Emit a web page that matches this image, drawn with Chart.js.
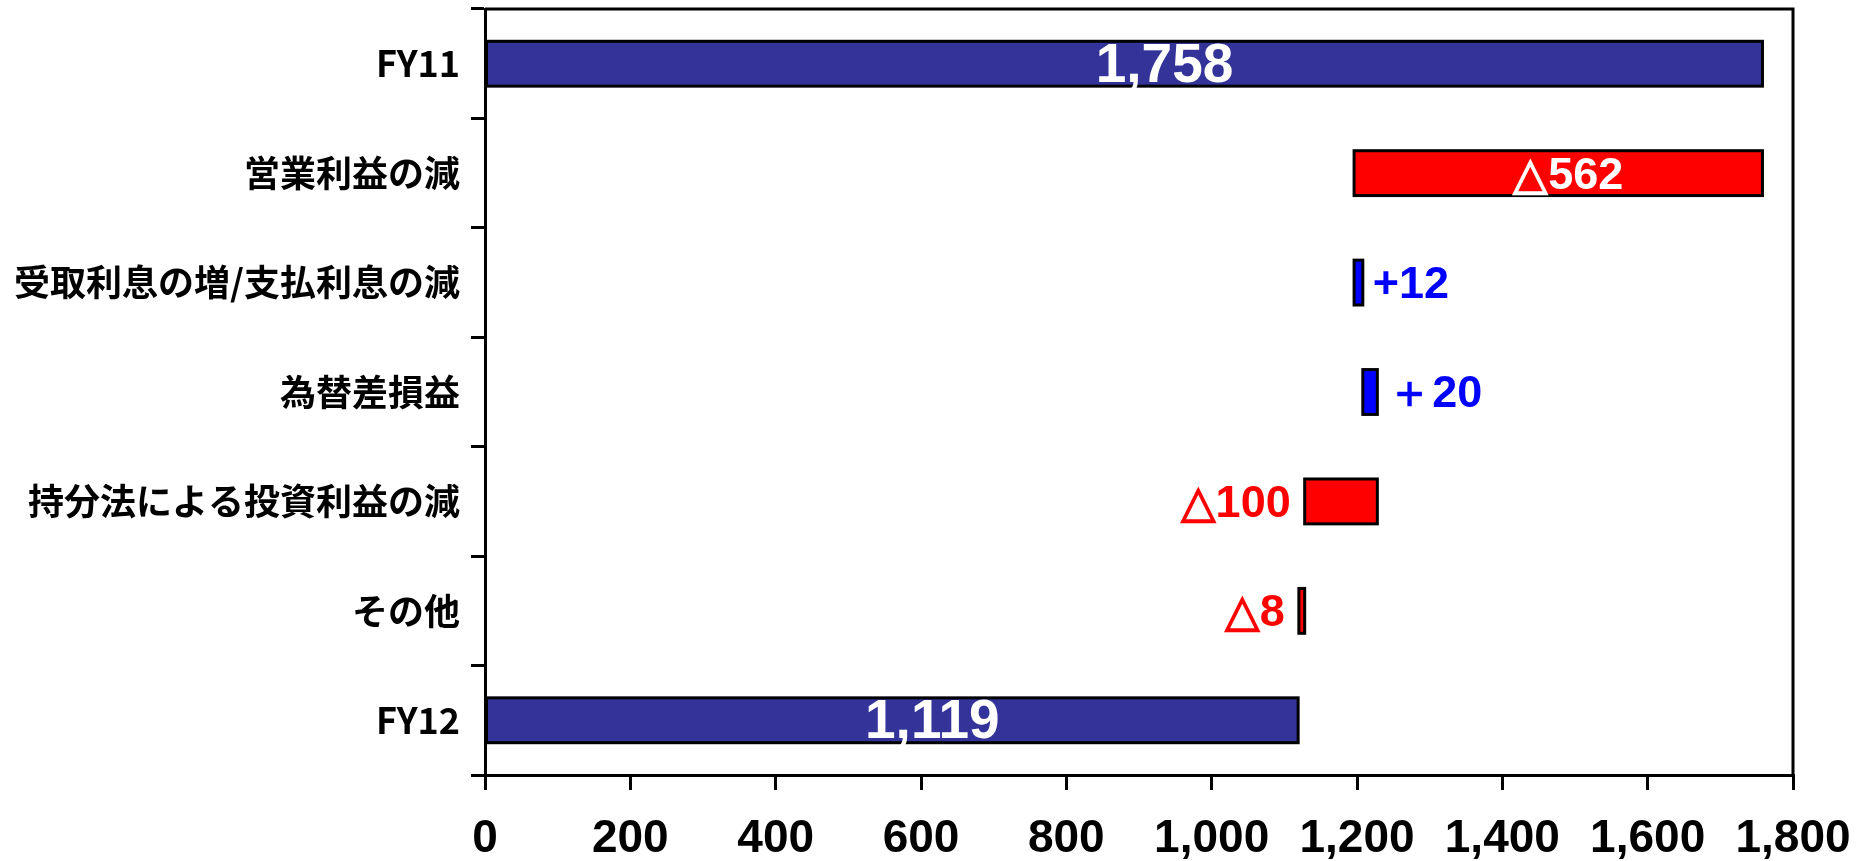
<!DOCTYPE html>
<html>
<head>
<meta charset="utf-8">
<script src="https://cdn.jsdelivr.net/npm/chart.js@4/dist/chart.umd.min.js"></script>
<style>
  html, body { margin: 0; padding: 0; background: #fff; }
</style>
</head>
<body>
<canvas id="bridgeChart" width="1856" height="861"></canvas>
<script>
// categories top to bottom
const categories = ['FY11', '営業利益の減', '受取利息の増/支払利息の減', '為替差損益', '持分法による投資利益の減', 'その他', 'FY12'];
// floating bars: where each bar starts and ends
const barStarts = [0, 1196, 1196, 1208, 1128, 1120, 0];
const barEnds = [1758, 1758, 1208, 1228, 1228, 1128, 1119];
const valueLabels = ['1,758', '△562', '+12', '＋20', '△100', '△8', '1,119'];
const barKinds = ['total', 'down', 'up', 'up', 'down', 'down', 'total'];
const xMin = 0;
const xMax = 1800;
const xStep = 200;

const kindColors = { total: '#333399', down: '#FF0000', up: '#0000FF' };
const labelColors = { down: '#FF0000', up: '#0000FF' };
const numFont = '"Liberation Sans", Arial, sans-serif';

const ctx = document.getElementById('bridgeChart').getContext('2d');

const frameLines = {
  id: 'frameLines',
  afterDraw(chart) {
    const a = chart.chartArea;
    const c = chart.ctx;
    c.save();
    c.strokeStyle = '#000';
    c.lineWidth = 3;
    c.beginPath();
    c.moveTo(a.left, a.top);
    c.lineTo(a.right, a.top);
    c.lineTo(a.right, a.bottom);
    c.stroke();
    c.restore();
  }
};

// outline each bar on its edges (centred stroke, like the original) and write the values
const barLabels = {
  id: 'barLabels',
  afterDatasetsDraw(chart) {
    const c = chart.ctx;
    const meta = chart.getDatasetMeta(0);
    meta.data.forEach((bar, i) => {
      const left = Math.min(bar.x, bar.base);
      const right = Math.max(bar.x, bar.base);
      const top = bar.y - bar.height / 2;
      c.save();
      c.strokeStyle = '#000';
      c.lineWidth = 3;
      c.strokeRect(left, top, right - left, bar.height);
      c.restore();

      const kind = barKinds[i];
      c.save();
      c.textBaseline = 'middle';
      if (kind === 'total') {
        c.font = 'bold 55px ' + numFont;
        c.fillStyle = '#fff';
        c.textAlign = 'center';
        c.fillText(valueLabels[i], (left + right) / 2 + 40, bar.y + 3);
      } else if (right - left > 150) {
        c.font = 'bold 45px ' + numFont;
        c.fillStyle = '#fff';
        c.textAlign = 'center';
        c.fillText(valueLabels[i], (left + right) / 2 + 10, bar.y + 3);
      } else if (kind === 'up') {
        c.font = 'bold 45px ' + numFont;
        c.fillStyle = labelColors.up;
        c.textAlign = 'left';
        c.fillText(valueLabels[i], right + 10, bar.y + 3);
      } else {
        c.font = 'bold 45px ' + numFont;
        c.fillStyle = labelColors.down;
        c.textAlign = 'right';
        c.fillText(valueLabels[i], left - 14, bar.y + 3);
      }
      c.restore();
    });
  }
};

const bridgeChart = new Chart(ctx, {
  type: 'bar',
  data: {
    labels: categories,
    datasets: [{
      data: barStarts.map((s, i) => [s, barEnds[i]]),
      backgroundColor: barKinds.map(k => kindColors[k]),
      borderWidth: 0,
      barPercentage: 0.41,
      categoryPercentage: 1.0
    }]
  },
  options: {
    indexAxis: 'y',
    responsive: false,
    devicePixelRatio: 1,
    animation: false,
    layout: { padding: { top: 9, right: 63, bottom: 0, left: 0 } },
    plugins: {
      legend: { display: false },
      tooltip: { enabled: false }
    },
    scales: {
      x: {
        min: xMin,
        max: xMax,
        ticks: {
          stepSize: xStep,
          color: '#000',
          padding: 22,
          maxRotation: 0,
          font: { family: numFont, size: 46, weight: 'bold' },
          callback: v => v.toLocaleString('en-US')
        },
        grid: { drawOnChartArea: false, drawTicks: true, tickLength: 15, color: '#000', lineWidth: 3 },
        border: { color: '#000', width: 3 },
        afterFit: scale => {
          scale.height = 86;
          scale.paddingLeft = 0;
          scale.paddingRight = 0;
        }
      },
      y: {
        ticks: {
          color: '#000',
          padding: 11,
          font: { family: '"Noto Sans CJK JP", sans-serif', size: 36, weight: 'bold' }
        },
        grid: { offset: true, drawOnChartArea: false, drawTicks: true, tickLength: 14, color: '#000', lineWidth: 3 },
        border: { color: '#000', width: 3 },
        afterFit: scale => {
          scale.width = 485;
          scale.paddingTop = 0;
          scale.paddingBottom = 0;
        }
      }
    }
  },
  plugins: [frameLines, barLabels]
});
</script>
</body>
</html>
